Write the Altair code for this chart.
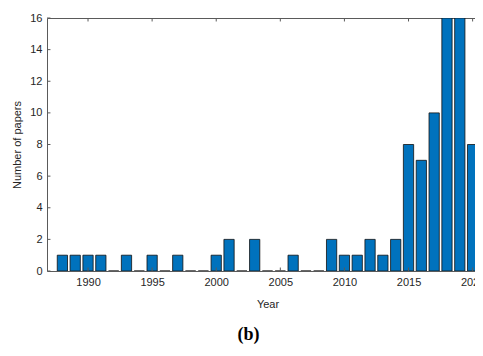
import altair as alt
import pandas as pd

years = list(range(1988, 2021))
counts = [1, 1, 1, 1, 0, 1, 0, 1, 0, 1, 0, 0, 1, 2, 0, 2, 0, 0, 1, 0, 0,
          2, 1, 1, 2, 1, 2, 8, 7, 10, 16, 16, 8]
x_ticks = [1990, 1995, 2000, 2005, 2010, 2015, 2020]
y_ticks = [0, 2, 4, 6, 8, 10, 12, 14, 16]

X_DOMAIN = [1986.8, 2021.2]
Y_DOMAIN = [0, 16]
BAR_HALF = 0.4

bars_df = pd.DataFrame({"year": years, "count": counts})
bars_df["x0"] = bars_df["year"] - BAR_HALF
bars_df["x1"] = bars_df["year"] + BAR_HALF
bars_df["base"] = 0

xt_df = pd.DataFrame({"t": x_ticks})
yt_df = pd.DataFrame({"t": y_ticks})

FONT = "Liberation Sans"
TXT = "#262626"
AX = "#5a5a5a"

xscale = alt.Scale(domain=X_DOMAIN, nice=False, zero=False)
yscale = alt.Scale(domain=Y_DOMAIN, nice=False)

xaxis = alt.Axis(values=x_ticks, format="d", title="Year",
                 ticks=False, domain=False, grid=False,
                 labelPadding=5, titlePadding=11)
yaxis = alt.Axis(values=y_ticks, title="Number of papers",
                 ticks=False, domain=False, grid=False,
                 labelOverlap=False, labelPadding=5, titlePadding=7)

bars = alt.Chart(bars_df).mark_bar(
    color="#0072BD", stroke="#111111", strokeWidth=0.8, clip=True
).encode(
    x=alt.X("x0:Q", scale=xscale, axis=xaxis),
    x2="x1:Q",
    y=alt.Y("count:Q", scale=yscale, axis=yaxis),
    y2="base:Q",
)

tick_len_y = 0.22
tick_len_x = 0.27

bottom_ticks = alt.Chart(xt_df).transform_calculate(
    y0="0", y1=str(tick_len_y)
).mark_rule(color=AX, strokeWidth=1).encode(
    x=alt.X("t:Q", scale=xscale, axis=xaxis),
    y=alt.Y("y0:Q", scale=yscale, axis=yaxis), y2="y1:Q"
)
top_ticks = alt.Chart(xt_df).transform_calculate(
    y0=str(Y_DOMAIN[1]), y1=str(Y_DOMAIN[1] - tick_len_y)
).mark_rule(color=AX, strokeWidth=1).encode(
    x=alt.X("t:Q", scale=xscale, axis=xaxis),
    y=alt.Y("y0:Q", scale=yscale, axis=yaxis), y2="y1:Q"
)
left_ticks = alt.Chart(yt_df).transform_calculate(
    x0=str(X_DOMAIN[0]), x1=str(X_DOMAIN[0] + tick_len_x)
).mark_rule(color=AX, strokeWidth=1).encode(
    y=alt.Y("t:Q", scale=yscale, axis=yaxis),
    x=alt.X("x0:Q", scale=xscale, axis=xaxis), x2="x1:Q"
)

chart = alt.layer(bars, bottom_ticks, top_ticks, left_ticks).properties(
    width=441,
    height=253,
    autosize=alt.AutoSizeParams(type="none"),
    padding={"left": 39, "top": 10, "right": -13, "bottom": 77},
    title=alt.TitleParams("(b)", orient="bottom", anchor="middle", dx=-19,
                          offset=17, font="Liberation Serif", fontSize=18,
                          fontWeight="bold", color="#000000"),
).configure_view(
    stroke=AX, strokeWidth=1
).configure_axis(
    labelFont=FONT, titleFont=FONT, labelFontSize=11, titleFontSize=11,
    labelColor=TXT, titleColor=TXT, titleFontWeight="normal"
)

chart.save("out.html", embed_options={"renderer": "svg", "actions": False})
